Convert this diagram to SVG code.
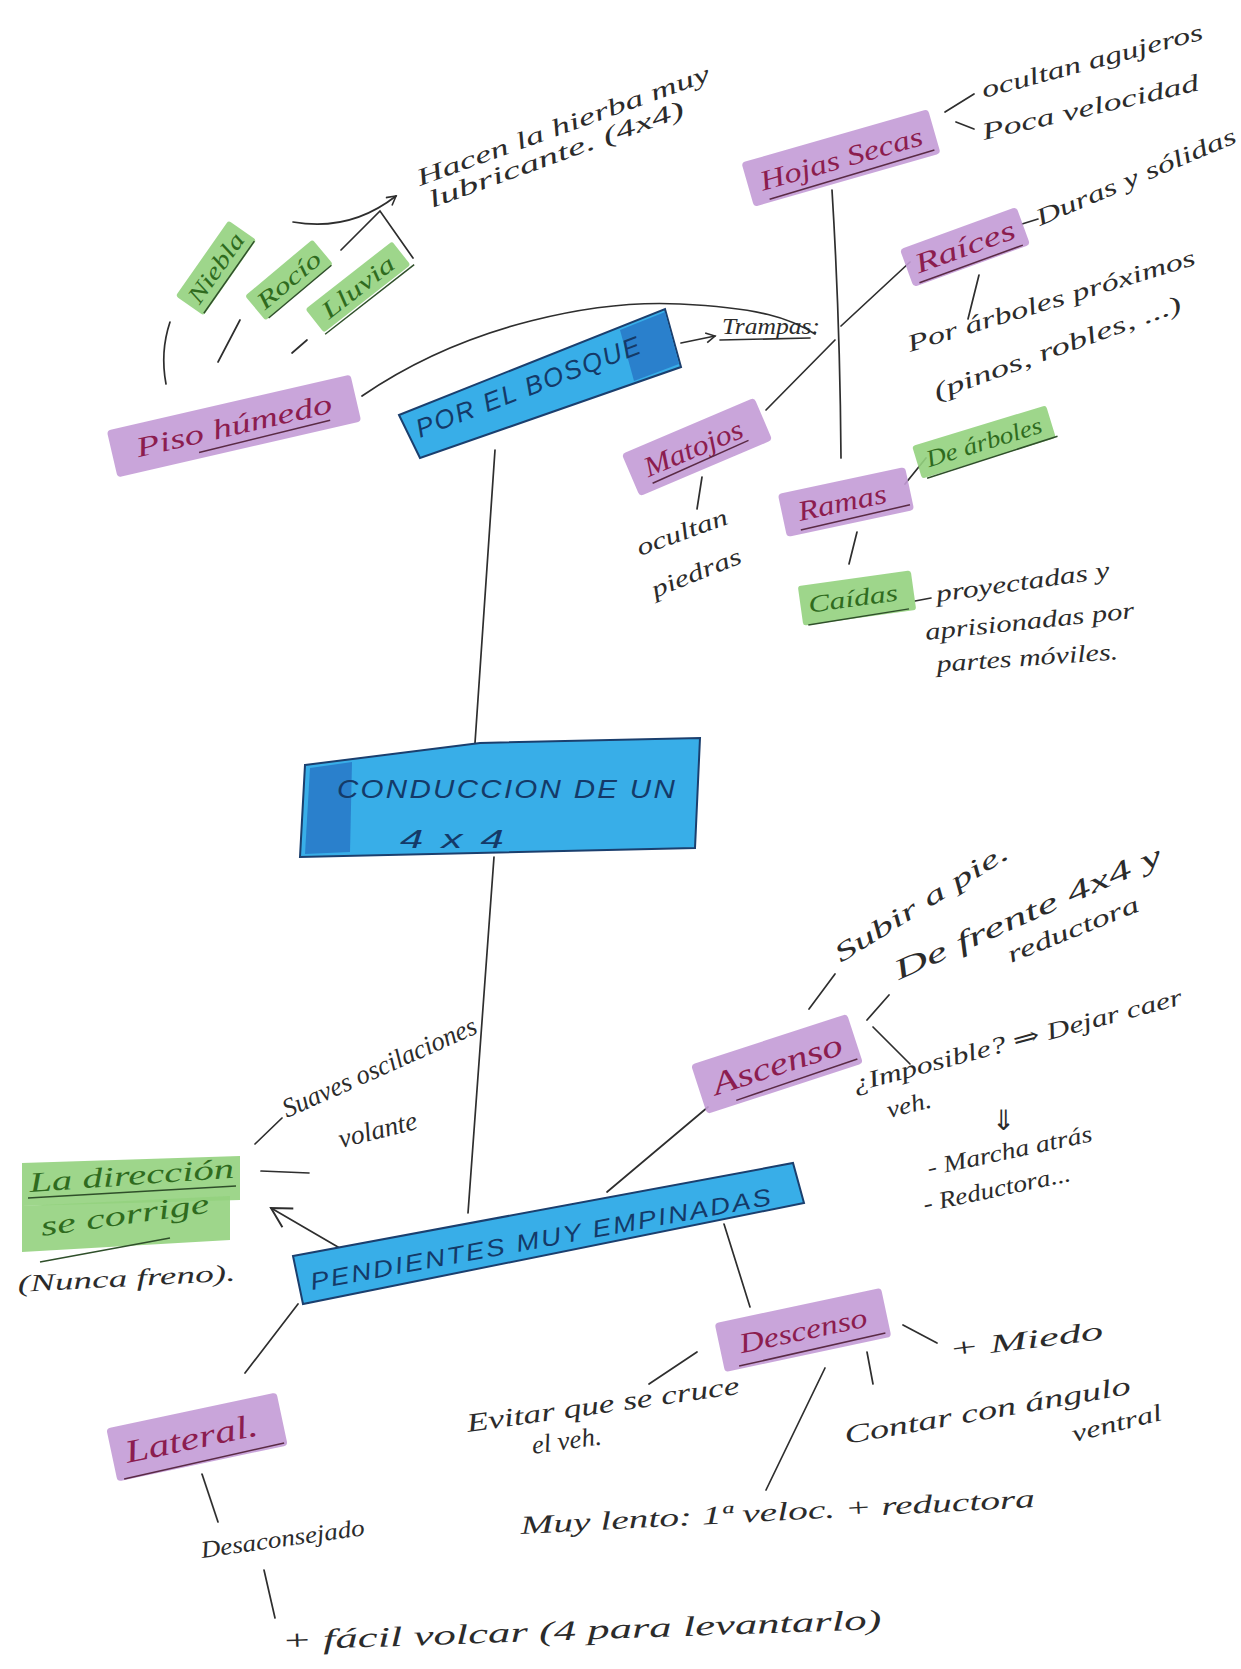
<svg xmlns="http://www.w3.org/2000/svg" width="1241" height="1669" viewBox="0 0 1241 1669">
<defs>
<style>
.n{font-family:"Liberation Serif","DejaVu Serif",serif;font-style:italic;font-size:24px;fill:#2b2b2b}
.pt{font-family:"Liberation Serif","DejaVu Serif",serif;font-style:italic;font-size:28px;fill:#8c1d4f}
.gt{font-family:"Liberation Serif","DejaVu Serif",serif;font-style:italic;font-size:24px;fill:#2f6b1e}
.bt{font-family:"Liberation Sans","DejaVu Sans",sans-serif;font-style:italic;font-size:26px;fill:#143a68;letter-spacing:2px}
.hp{fill:#c39bd6;opacity:0.9}
.hg{fill:#94d27e;opacity:0.9}
.bl{fill:#38aee8;stroke:#1b3f6e;stroke-width:2}
.bd{fill:#2a80cc}
.ln{stroke:#2e2e2e;stroke-width:1.7;fill:none;stroke-linecap:round}
.ul{stroke:#5a2a45;stroke-width:1.5;fill:none}
.ulg{stroke:#2f4f2a;stroke-width:1.5;fill:none}
</style>
<marker id="arr" viewBox="0 0 12 12" refX="10" refY="6" markerWidth="12" markerHeight="12" orient="auto" markerUnits="userSpaceOnUse">
<path d="M1,1 L10,6 L1,11" fill="none" stroke="#2e2e2e" stroke-width="1.6"/>
</marker>
<marker id="arrb" viewBox="0 0 24 24" refX="20" refY="12" markerWidth="26" markerHeight="26" orient="auto" markerUnits="userSpaceOnUse">
<path d="M2,2 L20,12 L2,22" fill="none" stroke="#2e2e2e" stroke-width="1.8"/>
</marker>
</defs>
<rect width="1241" height="1669" fill="#ffffff"/>

<g id="connectors">
<path class="ln" d="M293,222 Q350,232 396,196" marker-end="url(#arr)"/>
<polyline class="ln" points="341,250 380,211 413,258"/>
<path class="ln" d="M170,322 Q160,352 166,384"/>
<path class="ln" d="M218,362 L240,320"/>
<path class="ln" d="M292,353 L307,340"/>
<path class="ln" d="M362,396 C470,322 600,300 680,304 S790,318 815,334"/>
<path class="ln" d="M681,343 L715,336" marker-end="url(#arr)"/>
<path class="ln" d="M832,190 Q840,320 841,458"/>
<path class="ln" d="M841,326 L910,262"/>
<path class="ln" d="M835,340 L766,410"/>
<path class="ln" d="M945,112 L974,94"/>
<path class="ln" d="M956,122 L974,129"/>
<path class="ln" d="M1022,224 L1038,219"/>
<path class="ln" d="M979,275 L968,319"/>
<path class="ln" d="M702,477 L697,509"/>
<path class="ln" d="M905,484 L926,458"/>
<path class="ln" d="M857,532 L849,564"/>
<path class="ln" d="M915,601 L931,598"/>
<path class="ln" d="M495,450 L475,743"/>
<path class="ln" d="M494,857 L468,1213"/>
<path class="ln" d="M255,1144 L282,1118"/>
<path class="ln" d="M261,1171 L309,1173"/>
<path class="ln" d="M362,1261 L271,1208" marker-end="url(#arrb)"/>
<path class="ln" d="M607,1192 L708,1107"/>
<path class="ln" d="M809,1009 L835,974"/>
<path class="ln" d="M867,1020 L889,995"/>
<path class="ln" d="M873,1027 L910,1064"/>
<path class="ln" d="M724,1224 L750,1307"/>
<path class="ln" d="M903,1325 L937,1343"/>
<path class="ln" d="M649,1384 L697,1352"/>
<path class="ln" d="M867,1352 L873,1384"/>
<path class="ln" d="M825,1368 L766,1490"/>
<path class="ln" d="M298,1304 L245,1373"/>
<path class="ln" d="M202,1474 L218,1522"/>
<path class="ln" d="M264,1570 L275,1618"/>
</g>

<g id="central">
<polygon class="bl" points="305,765 480,743 700,738 695,848 300,857"/>
<polygon class="bd" points="310,768 352,762 350,852 305,854"/>
<text class="bt" x="337" y="798" textLength="340" lengthAdjust="spacingAndGlyphs">CONDUCCION DE UN</text>
<text class="bt" x="400" y="848" textLength="107" lengthAdjust="spacingAndGlyphs">4 x 4</text>
</g>

<g id="bosque">
<polygon class="bl" points="399,415 665,309 681,367 420,458"/>
<polygon class="bd" points="620,330 665,312 679,364 634,381"/>
<text class="bt" transform="translate(420,438) rotate(-21)" textLength="240" lengthAdjust="spacingAndGlyphs">POR EL BOSQUE</text>
</g>

<g id="pendientes">
<polygon class="bl" points="293,1256 793,1163 804,1203 303,1304"/>
<text class="bt" transform="translate(312,1290) rotate(-10.5)" textLength="470" lengthAdjust="spacingAndGlyphs" style="font-size:24px">PENDIENTES MUY EMPINADAS</text>
</g>

<g id="piso">
<g transform="translate(234,426) rotate(-13)">
<rect class="hp" x="-125" y="-24" width="250" height="48" rx="4"/>
<text class="pt" x="0" y="9" text-anchor="middle" textLength="200" lengthAdjust="spacingAndGlyphs">Piso húmedo</text>
<path class="ul" d="M-40,18 L95,16"/>
</g>
</g>

<g id="niebla">
<g transform="translate(216,268) rotate(-55)">
<rect class="hg" x="-46" y="-17" width="92" height="34" rx="3"/>
<text class="gt" x="0" y="8" text-anchor="middle" textLength="80" lengthAdjust="spacingAndGlyphs">Niebla</text>
<path class="ulg" d="M-44,16 L44,16"/>
</g>
</g>

<g id="rocio">
<g transform="translate(289,280) rotate(-40)">
<rect class="hg" x="-44" y="-16" width="88" height="32" rx="3"/>
<text class="gt" x="0" y="8" text-anchor="middle" textLength="76" lengthAdjust="spacingAndGlyphs">Rocío</text>
<path class="ulg" d="M-40,16 L42,16"/>
</g>
</g>

<g id="lluvia">
<g transform="translate(358,287) rotate(-38)">
<rect class="hg" x="-55" y="-15" width="110" height="30" rx="3"/>
<text class="gt" x="0" y="8" text-anchor="middle" textLength="86" lengthAdjust="spacingAndGlyphs">Lluvia</text>
<path class="ulg" d="M-55,17 L58,17"/>
</g>
</g>

<g id="hacen">
<text class="n" transform="translate(420,186) rotate(-20)" textLength="310" lengthAdjust="spacingAndGlyphs">Hacen la hierba muy</text>
<text class="n" transform="translate(432,208) rotate(-20)" textLength="270" lengthAdjust="spacingAndGlyphs">lubricante. (4x4)</text>
</g>

<g id="trampas">
<text class="n" x="722" y="334" textLength="98" lengthAdjust="spacingAndGlyphs">Trampas:</text>
<path class="ln" d="M720,340 L810,338"/>
</g>

<g id="hojas">
<g transform="translate(841,158) rotate(-16)">
<rect class="hp" x="-97" y="-23" width="194" height="46" rx="4"/>
<text class="pt" x="0" y="10" text-anchor="middle" textLength="168" lengthAdjust="spacingAndGlyphs">Hojas Secas</text>
<path class="ul" d="M-80,20 L92,18"/>
</g>
</g>
<g id="ocultan-agujeros">
<text class="n" transform="translate(984,98) rotate(-15)" textLength="228" lengthAdjust="spacingAndGlyphs">ocultan agujeros</text>
</g>
<g id="poca-velocidad">
<text class="n" transform="translate(984,140) rotate(-13)" textLength="222" lengthAdjust="spacingAndGlyphs">Poca velocidad</text>
</g>

<g id="raices">
<g transform="translate(965,247) rotate(-20)">
<rect class="hp" x="-62" y="-20" width="124" height="40" rx="4"/>
<text class="pt" x="0" y="9" text-anchor="middle" textLength="105" lengthAdjust="spacingAndGlyphs">Raíces</text>
<path class="ul" d="M-55,18 L55,18"/>
</g>
</g>
<g id="duras">
<text class="n" transform="translate(1040,226) rotate(-23)" textLength="215" lengthAdjust="spacingAndGlyphs">Duras y sólidas</text>
</g>
<g id="por-arboles">
<text class="n" transform="translate(910,352) rotate(-17)" textLength="300" lengthAdjust="spacingAndGlyphs">Por árboles próximos</text>
<text class="n" transform="translate(937,400) rotate(-20)" textLength="262" lengthAdjust="spacingAndGlyphs">(pinos, robles, ...)</text>
</g>

<g id="matojos">
<g transform="translate(697,447) rotate(-23)">
<rect class="hp" x="-72" y="-23" width="144" height="46" rx="4"/>
<text class="pt" x="-4" y="9" text-anchor="middle" textLength="105" lengthAdjust="spacingAndGlyphs">Matojos</text>
<path class="ul" d="M-55,16 L50,14"/>
</g>
</g>
<g id="ocultan-piedras">
<text class="n" transform="translate(640,556) rotate(-20)" textLength="95" lengthAdjust="spacingAndGlyphs">ocultan</text>
<text class="n" transform="translate(655,598) rotate(-22)" textLength="95" lengthAdjust="spacingAndGlyphs">piedras</text>
</g>

<g id="ramas">
<g transform="translate(846,502) rotate(-12)">
<rect class="hp" x="-65" y="-22" width="130" height="44" rx="4"/>
<text class="pt" x="-4" y="9" text-anchor="middle" textLength="90" lengthAdjust="spacingAndGlyphs">Ramas</text>
<path class="ul" d="M-50,18 L62,16"/>
</g>
</g>

<g id="de-arboles">
<g transform="translate(984,442) rotate(-17)">
<rect class="hg" x="-70" y="-17" width="140" height="34" rx="3"/>
<text class="gt" x="0" y="8" text-anchor="middle" textLength="120" lengthAdjust="spacingAndGlyphs">De árboles</text>
<path class="ulg" d="M-65,18 L72,16"/>
</g>
</g>

<g id="caidas">
<g transform="translate(857,598) rotate(-8)">
<rect class="hg" x="-57" y="-20" width="114" height="40" rx="3"/>
<text class="gt" x="-4" y="8" text-anchor="middle" textLength="90" lengthAdjust="spacingAndGlyphs">Caídas</text>
<path class="ulg" d="M-52,20 L50,18"/>
</g>
</g>
<g id="proyectadas">
<text class="n" transform="translate(937,602) rotate(-8)" textLength="175" lengthAdjust="spacingAndGlyphs">proyectadas y</text>
<text class="n" transform="translate(926,640) rotate(-6)" textLength="210" lengthAdjust="spacingAndGlyphs">aprisionadas por</text>
<text class="n" transform="translate(937,672) rotate(-4)" textLength="182" lengthAdjust="spacingAndGlyphs">partes móviles.</text>
</g>

<g id="direccion">
<polygon class="hg" points="22,1163 240,1156 240,1200 22,1206"/>
<polygon class="hg" points="22,1206 230,1196 230,1240 22,1252"/>
<text class="gt" transform="translate(30,1192) rotate(-4)" textLength="205" lengthAdjust="spacingAndGlyphs" style="font-size:28px">La dirección</text>
<text class="gt" transform="translate(42,1236) rotate(-8)" textLength="170" lengthAdjust="spacingAndGlyphs" style="font-size:28px">se corrige</text>
<path class="ulg" d="M28,1198 L236,1186"/>
<path class="ulg" d="M40,1262 L170,1238"/>
</g>
<g id="nunca-freno">
<text class="n" x="18" y="1292" textLength="218" lengthAdjust="spacingAndGlyphs" transform="rotate(-3 18 1292)">(Nunca freno).</text>
</g>
<g id="suaves">
<text class="n" transform="translate(287,1118) rotate(-24)" textLength="210" lengthAdjust="spacingAndGlyphs" style="font-size:27px">Suaves oscilaciones</text>
<text class="n" transform="translate(341,1148) rotate(-14)" textLength="80" lengthAdjust="spacingAndGlyphs" style="font-size:27px">volante</text>
</g>

<g id="ascenso">
<g transform="translate(777,1064) rotate(-18)">
<rect class="hp" x="-82" y="-26" width="164" height="52" rx="4"/>
<text class="pt" x="0" y="11" text-anchor="middle" textLength="135" lengthAdjust="spacingAndGlyphs" style="font-size:32px">Ascenso</text>
<path class="ul" d="M-50,22 L78,20"/>
</g>
</g>
<g id="subir">
<text class="n" transform="translate(841,963) rotate(-32)" textLength="200" lengthAdjust="spacingAndGlyphs" style="font-size:26px">Subir a pie.</text>
</g>
<g id="de-frente">
<text class="n" transform="translate(899,980) rotate(-24)" textLength="290" lengthAdjust="spacingAndGlyphs" style="font-size:28px">De frente 4x4 y</text>
<text class="n" transform="translate(1011,963) rotate(-22)" textLength="140" lengthAdjust="spacingAndGlyphs">reductora</text>
</g>
<g id="imposible">
<text class="n" transform="translate(855,1092) rotate(-15)" textLength="340" lengthAdjust="spacingAndGlyphs">¿Imposible? ⇒ Dejar caer</text>
<text class="n" transform="translate(889,1118) rotate(-14)" textLength="45" lengthAdjust="spacingAndGlyphs">veh.</text>
<text x="992" y="1130" style="font-family:'DejaVu Sans',sans-serif;font-size:28px;fill:#2b2b2b">⇓</text>
<text class="n" transform="translate(929,1176) rotate(-12)" textLength="168" lengthAdjust="spacingAndGlyphs">- Marcha atrás</text>
<text class="n" transform="translate(925,1212) rotate(-12)" textLength="150" lengthAdjust="spacingAndGlyphs">- Reductora...</text>
</g>

<g id="descenso">
<g transform="translate(803,1330) rotate(-12)">
<rect class="hp" x="-85" y="-25" width="170" height="50" rx="4"/>
<text class="pt" x="0" y="10" text-anchor="middle" textLength="130" lengthAdjust="spacingAndGlyphs">Descenso</text>
<path class="ul" d="M-70,22 L80,20"/>
</g>
</g>
<g id="miedo">
<text class="n" transform="translate(950,1358) rotate(-7)" textLength="155" lengthAdjust="spacingAndGlyphs" style="font-size:26px">+ Miedo</text>
</g>
<g id="evitar">
<text class="n" transform="translate(468,1432) rotate(-8)" textLength="275" lengthAdjust="spacingAndGlyphs" style="font-size:26px">Evitar que se cruce</text>
<text class="n" transform="translate(533,1454) rotate(-8)" textLength="70" lengthAdjust="spacingAndGlyphs" style="font-size:26px">el veh.</text>
</g>
<g id="contar">
<text class="n" transform="translate(846,1444) rotate(-10)" textLength="290" lengthAdjust="spacingAndGlyphs" style="font-size:26px">Contar con ángulo</text>
<text class="n" transform="translate(1074,1442) rotate(-14)" textLength="92" lengthAdjust="spacingAndGlyphs">ventral</text>
</g>
<g id="muy-lento">
<text class="n" transform="translate(521,1534) rotate(-3)" textLength="515" lengthAdjust="spacingAndGlyphs" style="font-size:26px">Muy lento: 1ª veloc. + reductora</text>
</g>

<g id="lateral">
<g transform="translate(197,1437) rotate(-12)">
<rect class="hp" x="-87" y="-27" width="174" height="54" rx="4"/>
<text class="pt" x="-6" y="11" text-anchor="middle" textLength="135" lengthAdjust="spacingAndGlyphs" style="font-size:32px">Lateral.</text>
<path class="ul" d="M-80,26 L84,24"/>
</g>
</g>
<g id="desaconsejado">
<text class="n" transform="translate(202,1558) rotate(-8)" textLength="165" lengthAdjust="spacingAndGlyphs">Desaconsejado</text>
</g>
<g id="facil">
<text class="n" transform="translate(282,1650) rotate(-2)" textLength="600" lengthAdjust="spacingAndGlyphs" style="font-size:28px">+ fácil volcar (4 para levantarlo)</text>
</g>
</svg>
